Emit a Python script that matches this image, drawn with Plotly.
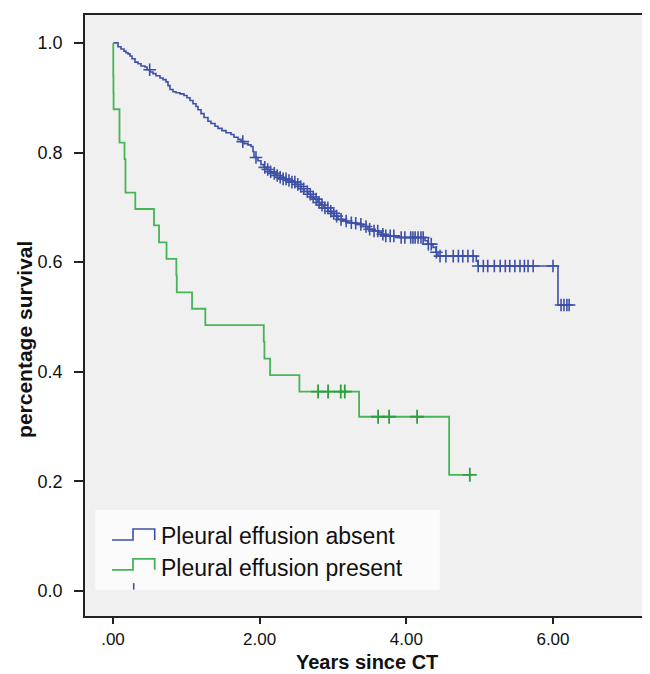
import plotly.graph_objects as go

# ---------------- data ----------------
# Pleural effusion present (green): event times (years) and survival after each drop
green_times = [0.004, 0.006, 0.008, 0.089, 0.157, 0.170, 0.304, 0.559, 0.628, 0.730,
               0.864, 0.870, 1.078, 1.259, 2.056, 2.065, 2.142, 2.542, 3.356, 4.584]
green_surv = [0.939, 0.909, 0.879, 0.818, 0.788, 0.727, 0.697, 0.667, 0.636, 0.606,
              0.576, 0.545, 0.515, 0.485, 0.455, 0.424, 0.394, 0.364, 0.318, 0.212]
green_censor = [2.797, 2.933, 3.106, 3.161, 3.615, 3.765, 4.147, 4.866]
green_end = 4.866

# Pleural effusion absent (blue)
blue_times = [0.068, 0.109, 0.150, 0.177, 0.205, 0.232, 0.259, 0.300, 0.341, 0.382,
              0.436, 0.464, 0.505, 0.545, 0.586, 0.641, 0.682, 0.723, 0.750, 0.777,
              0.818, 0.859, 0.914, 0.968, 1.009, 1.050, 1.091, 1.132, 1.159, 1.200,
              1.241, 1.295, 1.336, 1.391, 1.432, 1.486, 1.541, 1.609, 1.650, 1.705,
              1.746, 1.786, 1.841, 1.882, 1.909, 1.923, 1.977, 2.018, 2.059, 2.100,
              2.141, 2.182, 2.223, 2.277, 2.318, 2.373, 2.427, 2.482, 2.523, 2.564,
              2.605, 2.659, 2.700, 2.741, 2.795, 2.836, 2.877, 2.932, 2.973, 3.014,
              3.068, 3.136, 3.205, 3.273, 3.341, 3.409, 3.477, 3.545, 3.614, 3.668,
              3.709, 3.886, 4.255, 4.295, 4.364, 4.405, 4.432, 4.954, 4.977, 6.068]
blue_surv = [0.993, 0.989, 0.985, 0.982, 0.980, 0.976, 0.971, 0.965, 0.962, 0.958,
             0.956, 0.951, 0.947, 0.944, 0.940, 0.936, 0.933, 0.929, 0.922, 0.915,
             0.911, 0.909, 0.907, 0.904, 0.900, 0.895, 0.889, 0.884, 0.878, 0.871,
             0.864, 0.857, 0.853, 0.848, 0.844, 0.840, 0.836, 0.833, 0.828, 0.824,
             0.820, 0.816, 0.814, 0.811, 0.802, 0.791, 0.785, 0.778, 0.773, 0.769,
             0.765, 0.762, 0.758, 0.755, 0.752, 0.749, 0.746, 0.742, 0.738, 0.734,
             0.729, 0.724, 0.719, 0.715, 0.709, 0.704, 0.699, 0.693, 0.689, 0.684,
             0.678, 0.675, 0.672, 0.671, 0.669, 0.665, 0.660, 0.657, 0.654, 0.651,
             0.648, 0.645, 0.639, 0.633, 0.627, 0.618, 0.611, 0.602, 0.593, 0.522]
blue_censor = [0.50, 1.77, 1.95, 2.07, 2.11, 2.15, 2.20, 2.24, 2.28, 2.32, 2.36, 2.40,
               2.44, 2.48, 2.52, 2.56, 2.60, 2.65, 2.69, 2.73, 2.77, 2.81, 2.85, 2.89,
               2.93, 2.97, 3.01, 3.05, 3.11, 3.18, 3.25, 3.31, 3.38, 3.45, 3.50, 3.56,
               3.61, 3.68, 3.72, 3.78, 3.83, 3.93, 3.98, 4.06, 4.09, 4.12, 4.16, 4.20,
               4.23, 4.30, 4.34, 4.41, 4.46, 4.54, 4.64, 4.71, 4.77, 4.84, 4.91, 4.98,
               5.05, 5.11, 5.20, 5.28, 5.35, 5.41, 5.48, 5.55, 5.61, 5.66, 5.73, 6.00,
               6.11, 6.15, 6.19, 6.22]
blue_end = 6.22

x_tickvals = [0, 2, 4, 6]
x_ticktext = [".00", "2.00", "4.00", "6.00"]
y_tickvals = [0.0, 0.2, 0.4, 0.6, 0.8, 1.0]
y_ticktext = ["0.0", "0.2", "0.4", "0.6", "0.8", "1.0"]

series_names = ["Pleural effusion absent", "Pleural effusion present"]

BLUE = "#3d50a8"
GREEN = "#45b555"
GREEN_DARK = "#2f9e3f"
FONT = "Liberation Sans"

# ---------------- helpers ----------------
def step_xy(times, surv, end):
    xs = [0.0] + list(times) + [end]
    ys = [1.0] + list(surv) + [surv[-1]]
    return xs, ys


def surv_at(t, times, surv):
    s = 1.0
    for ti, si in zip(times, surv):
        if ti <= t:
            s = si
    return s

# layout geometry (pixels)
W, H = 650, 674
ML, MR, MT, MB = 77, 9, 5, 66
PW, PH = W - ML - MR, H - MT - MB


def px(x):
    return (x - ML) / PW


def py(y):
    return 1 - (y - MT) / PH

fig = go.Figure()

bx, by = step_xy(blue_times, blue_surv, blue_end)
gx, gy = step_xy(green_times, green_surv, green_end)

fig.add_trace(go.Scatter(x=bx, y=by, mode="lines", line=dict(color=BLUE, width=1.6, shape="hv"),
                         name=series_names[0], hoverinfo="skip"))
fig.add_trace(go.Scatter(x=gx, y=gy, mode="lines", line=dict(color=GREEN, width=1.8, shape="hv"),
                         name=series_names[1], hoverinfo="skip"))

fig.add_trace(go.Scatter(x=blue_censor, y=[surv_at(t, blue_times, blue_surv) for t in blue_censor],
                         mode="markers",
                         marker=dict(symbol="cross-thin", size=9, line=dict(color=BLUE, width=1.6)),
                         showlegend=False, hoverinfo="skip"))
fig.add_trace(go.Scatter(x=green_censor, y=[surv_at(t, green_times, green_surv) for t in green_censor],
                         mode="markers",
                         marker=dict(symbol="cross-thin", size=10, line=dict(color=GREEN_DARK, width=1.8)),
                         showlegend=False, hoverinfo="skip"))

x_lo = (ML - 105) / 73.33
x_hi = (W - MR - 105) / 73.33
y_hi = (583 - MT) / 550
y_lo = (583 - (H - MB)) / 550

axis_common = dict(showgrid=False, zeroline=False, showline=True, linecolor="#222222", linewidth=1.6,
                   mirror=True, ticks="outside", tickcolor="#222222", tickwidth=1.5)

fig.update_xaxes(range=[x_lo, x_hi], tickvals=x_tickvals, ticktext=x_ticktext, ticklen=6,
                 ticklabelstandoff=1, tickfont=dict(family=FONT, size=17, color="#111111"), **axis_common)
fig.update_yaxes(range=[y_lo, y_hi], tickvals=y_tickvals, ticktext=y_ticktext, ticklen=9,
                 ticklabelstandoff=8, tickfont=dict(family=FONT, size=18, color="#111111"), **axis_common)

shapes = [
    dict(type="rect", xref="paper", yref="paper", x0=px(87.3), x1=px(431.7), y0=py(581.7), y1=py(501.7),
         fillcolor="#fbfbfb", line=dict(width=0), layer="above"),
    dict(type="path", xref="paper", yref="paper",
         path=f"M {px(104)},{py(531.7)} L {px(125)},{py(531.7)} L {px(125)},{py(520.7)} "
              f"L {px(146.7)},{py(520.7)} L {px(146.7)},{py(531.7)}",
         line=dict(color=BLUE, width=1.6), layer="above"),
    dict(type="path", xref="paper", yref="paper",
         path=f"M {px(104)},{py(561.7)} L {px(125)},{py(561.7)} L {px(125)},{py(550.7)} "
              f"L {px(146.7)},{py(550.7)} L {px(146.7)},{py(561.7)}",
         line=dict(color=GREEN, width=1.8), layer="above"),
    dict(type="line", xref="paper", yref="paper", x0=px(125.7), x1=px(125.7), y0=py(575), y1=py(581.5),
         line=dict(color=BLUE, width=1.6), layer="above"),
]

annotations = [
    dict(text=series_names[0], xref="paper", yref="paper", x=px(151), y=py(527.5), xanchor="left",
         yanchor="middle", showarrow=False, font=dict(family=FONT, size=23, color="#111111")),
    dict(text=series_names[1], xref="paper", yref="paper", x=px(151), y=py(559.5), xanchor="left",
         yanchor="middle", showarrow=False, font=dict(family=FONT, size=23, color="#111111")),
    dict(text="<b>Years since CT</b>", xref="paper", yref="paper", x=px(359), y=py(667), xanchor="center",
         yanchor="bottom", showarrow=False, font=dict(family=FONT, size=20, color="#111111")),
    dict(text="<b>percentage survival</b>", xref="paper", yref="paper", x=px(17), y=py(331), xanchor="center",
         yanchor="middle", textangle=-90, showarrow=False, font=dict(family=FONT, size=21, color="#111111")),
]

fig.update_layout(width=W, height=H, margin=dict(l=ML, r=MR, t=MT, b=MB, pad=0),
                  paper_bgcolor="white", plot_bgcolor="#f0f0f0", showlegend=False,
                  shapes=shapes, annotations=annotations)

fig.write_html("out.html")
